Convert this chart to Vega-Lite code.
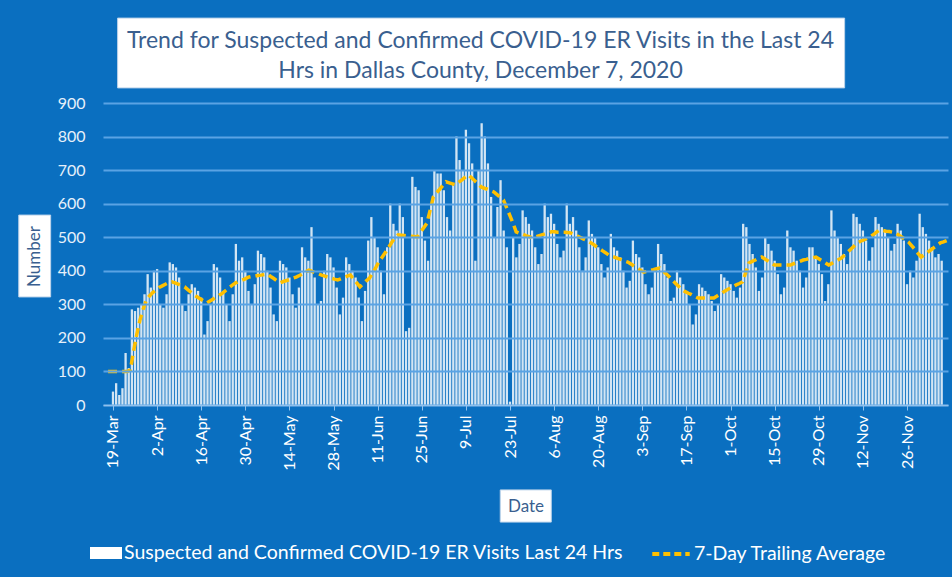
{
"$schema": "https://vega.github.io/schema/vega-lite/v6.json",
"width": 845, "height": 302,
"autosize": {"type": "none"},
"padding": {"left": 103, "top": 103, "right": 4, "bottom": 172},
"background": "#0a6fc0",
"config": {"view": {"stroke": null}, "font": "Lato"},
"title": {"text": ["Trend for Suspected and Confirmed COVID-19 ER Visits in the Last 24", "Hrs in Dallas County, December 7, 2020"], "color": "#3a5f8f", "fontSize": 23, "fontWeight": "normal", "font": "Lato", "lineHeight": 30, "anchor": "middle", "frame": "group", "dx": -45, "offset": 0, "dy": 65},
"resolve": {"scale": {"x": "independent", "y": "independent"}},
"data": {"values": [
{"date":"2020-03-19","visits":40,"avg":100},{"date":"2020-03-20","visits":65,"avg":100},{"date":"2020-03-21","visits":30,"avg":100},{"date":"2020-03-22","visits":50,"avg":100},{"date":"2020-03-23","visits":155,"avg":100},{"date":"2020-03-24","visits":110,"avg":100},{"date":"2020-03-25","visits":285,"avg":100},{"date":"2020-03-26","visits":280,"avg":105},{"date":"2020-03-27","visits":290,"avg":160},{"date":"2020-03-28","visits":300,"avg":210},{"date":"2020-03-29","visits":330,"avg":253},{"date":"2020-03-30","visits":390,"avg":285},{"date":"2020-03-31","visits":350,"avg":313},
{"date":"2020-04-01","visits":400,"avg":325},{"date":"2020-04-02","visits":405,"avg":335},{"date":"2020-04-03","visits":300,"avg":343},{"date":"2020-04-04","visits":290,"avg":350},{"date":"2020-04-05","visits":330,"avg":355},{"date":"2020-04-06","visits":425,"avg":360},{"date":"2020-04-07","visits":420,"avg":365},{"date":"2020-04-08","visits":410,"avg":367},{"date":"2020-04-09","visits":380,"avg":364},{"date":"2020-04-10","visits":300,"avg":360},{"date":"2020-04-11","visits":280,"avg":356},{"date":"2020-04-12","visits":330,"avg":352},{"date":"2020-04-13","visits":360,"avg":344},{"date":"2020-04-14","visits":350,"avg":336},{"date":"2020-04-15","visits":340,"avg":328},{"date":"2020-04-16","visits":320,"avg":322},{"date":"2020-04-17","visits":210,"avg":316},{"date":"2020-04-18","visits":250,"avg":310},{"date":"2020-04-19","visits":300,"avg":304},{"date":"2020-04-20","visits":420,"avg":310},{"date":"2020-04-21","visits":410,"avg":316},{"date":"2020-04-22","visits":380,"avg":322},{"date":"2020-04-23","visits":340,"avg":328},{"date":"2020-04-24","visits":300,"avg":334},{"date":"2020-04-25","visits":250,"avg":342},{"date":"2020-04-26","visits":330,"avg":350},{"date":"2020-04-27","visits":480,"avg":357},{"date":"2020-04-28","visits":430,"avg":364},{"date":"2020-04-29","visits":440,"avg":368},{"date":"2020-04-30","visits":400,"avg":372},
{"date":"2020-05-01","visits":340,"avg":376},{"date":"2020-05-02","visits":300,"avg":381},{"date":"2020-05-03","visits":360,"avg":383},{"date":"2020-05-04","visits":460,"avg":384},{"date":"2020-05-05","visits":450,"avg":386},{"date":"2020-05-06","visits":440,"avg":387},{"date":"2020-05-07","visits":400,"avg":389},{"date":"2020-05-08","visits":350,"avg":390},{"date":"2020-05-09","visits":270,"avg":383},{"date":"2020-05-10","visits":250,"avg":377},{"date":"2020-05-11","visits":430,"avg":370},{"date":"2020-05-12","visits":420,"avg":364},{"date":"2020-05-13","visits":410,"avg":368},{"date":"2020-05-14","visits":380,"avg":371},{"date":"2020-05-15","visits":330,"avg":374},{"date":"2020-05-16","visits":290,"avg":378},{"date":"2020-05-17","visits":350,"avg":381},{"date":"2020-05-18","visits":470,"avg":386},{"date":"2020-05-19","visits":440,"avg":391},{"date":"2020-05-20","visits":430,"avg":397},{"date":"2020-05-21","visits":530,"avg":402},{"date":"2020-05-22","visits":380,"avg":398},{"date":"2020-05-23","visits":300,"avg":394},{"date":"2020-05-24","visits":310,"avg":391},{"date":"2020-05-25","visits":400,"avg":387},{"date":"2020-05-26","visits":450,"avg":384},{"date":"2020-05-27","visits":440,"avg":381},{"date":"2020-05-28","visits":410,"avg":378},{"date":"2020-05-29","visits":350,"avg":375},{"date":"2020-05-30","visits":270,"avg":373},{"date":"2020-05-31","visits":320,"avg":376},
{"date":"2020-06-01","visits":440,"avg":380},{"date":"2020-06-02","visits":420,"avg":384},{"date":"2020-06-03","visits":400,"avg":387},{"date":"2020-06-04","visits":380,"avg":375},{"date":"2020-06-05","visits":320,"avg":364},{"date":"2020-06-06","visits":250,"avg":352},{"date":"2020-06-07","visits":340,"avg":361},{"date":"2020-06-08","visits":490,"avg":370},{"date":"2020-06-09","visits":560,"avg":378},{"date":"2020-06-10","visits":500,"avg":394},{"date":"2020-06-11","visits":470,"avg":410},{"date":"2020-06-12","visits":400,"avg":428},{"date":"2020-06-13","visits":330,"avg":441},{"date":"2020-06-14","visits":470,"avg":455},{"date":"2020-06-15","visits":600,"avg":470},{"date":"2020-06-16","visits":540,"avg":485},{"date":"2020-06-17","visits":520,"avg":498},{"date":"2020-06-18","visits":600,"avg":507},{"date":"2020-06-19","visits":560,"avg":506},{"date":"2020-06-20","visits":220,"avg":505},{"date":"2020-06-21","visits":230,"avg":504},{"date":"2020-06-22","visits":680,"avg":503},{"date":"2020-06-23","visits":650,"avg":502},{"date":"2020-06-24","visits":640,"avg":501},{"date":"2020-06-25","visits":560,"avg":515},{"date":"2020-06-26","visits":490,"avg":528},{"date":"2020-06-27","visits":430,"avg":542},{"date":"2020-06-28","visits":600,"avg":580},{"date":"2020-06-29","visits":700,"avg":620},{"date":"2020-06-30","visits":690,"avg":632},
{"date":"2020-07-01","visits":690,"avg":643},{"date":"2020-07-02","visits":640,"avg":654},{"date":"2020-07-03","visits":560,"avg":665},{"date":"2020-07-04","visits":520,"avg":662},{"date":"2020-07-05","visits":660,"avg":659},{"date":"2020-07-06","visits":800,"avg":656},{"date":"2020-07-07","visits":730,"avg":664},{"date":"2020-07-08","visits":700,"avg":671},{"date":"2020-07-09","visits":820,"avg":679},{"date":"2020-07-10","visits":780,"avg":686},{"date":"2020-07-11","visits":720,"avg":677},{"date":"2020-07-12","visits":430,"avg":668},{"date":"2020-07-13","visits":700,"avg":659},{"date":"2020-07-14","visits":840,"avg":650},{"date":"2020-07-15","visits":800,"avg":646},{"date":"2020-07-16","visits":720,"avg":643},{"date":"2020-07-17","visits":620,"avg":639},{"date":"2020-07-18","visits":500,"avg":635},{"date":"2020-07-19","visits":590,"avg":627},{"date":"2020-07-20","visits":670,"avg":619},{"date":"2020-07-21","visits":520,"avg":611},{"date":"2020-07-22","visits":470,"avg":588},{"date":"2020-07-23","visits":10,"avg":565},{"date":"2020-07-24","visits":500,"avg":542},{"date":"2020-07-25","visits":440,"avg":516},{"date":"2020-07-26","visits":480,"avg":512},{"date":"2020-07-27","visits":580,"avg":509},{"date":"2020-07-28","visits":560,"avg":505},{"date":"2020-07-29","visits":540,"avg":502},{"date":"2020-07-30","visits":520,"avg":498},{"date":"2020-07-31","visits":470,"avg":501},
{"date":"2020-08-01","visits":420,"avg":504},{"date":"2020-08-02","visits":450,"avg":507},{"date":"2020-08-03","visits":600,"avg":510},{"date":"2020-08-04","visits":560,"avg":513},{"date":"2020-08-05","visits":570,"avg":516},{"date":"2020-08-06","visits":540,"avg":516},{"date":"2020-08-07","visits":480,"avg":515},{"date":"2020-08-08","visits":440,"avg":515},{"date":"2020-08-09","visits":460,"avg":515},{"date":"2020-08-10","visits":600,"avg":514},{"date":"2020-08-11","visits":540,"avg":513},{"date":"2020-08-12","visits":560,"avg":509},{"date":"2020-08-13","visits":520,"avg":504},{"date":"2020-08-14","visits":470,"avg":500},{"date":"2020-08-15","visits":400,"avg":495},{"date":"2020-08-16","visits":440,"avg":491},{"date":"2020-08-17","visits":550,"avg":486},{"date":"2020-08-18","visits":510,"avg":480},{"date":"2020-08-19","visits":500,"avg":473},{"date":"2020-08-20","visits":470,"avg":467},{"date":"2020-08-21","visits":420,"avg":460},{"date":"2020-08-22","visits":380,"avg":454},{"date":"2020-08-23","visits":410,"avg":447},{"date":"2020-08-24","visits":510,"avg":443},{"date":"2020-08-25","visits":470,"avg":440},{"date":"2020-08-26","visits":460,"avg":436},{"date":"2020-08-27","visits":440,"avg":433},{"date":"2020-08-28","visits":400,"avg":429},{"date":"2020-08-29","visits":350,"avg":426},{"date":"2020-08-30","visits":370,"avg":420},{"date":"2020-08-31","visits":490,"avg":414},
{"date":"2020-09-01","visits":450,"avg":408},{"date":"2020-09-02","visits":440,"avg":402},{"date":"2020-09-03","visits":410,"avg":396},{"date":"2020-09-04","visits":360,"avg":398},{"date":"2020-09-05","visits":330,"avg":401},{"date":"2020-09-06","visits":350,"avg":403},{"date":"2020-09-07","visits":400,"avg":406},{"date":"2020-09-08","visits":480,"avg":408},{"date":"2020-09-09","visits":450,"avg":400},{"date":"2020-09-10","visits":420,"avg":391},{"date":"2020-09-11","visits":380,"avg":382},{"date":"2020-09-12","visits":310,"avg":372},{"date":"2020-09-13","visits":320,"avg":362},{"date":"2020-09-14","visits":400,"avg":353},{"date":"2020-09-15","visits":380,"avg":343},{"date":"2020-09-16","visits":360,"avg":338},{"date":"2020-09-17","visits":340,"avg":333},{"date":"2020-09-18","visits":300,"avg":329},{"date":"2020-09-19","visits":240,"avg":324},{"date":"2020-09-20","visits":270,"avg":319},{"date":"2020-09-21","visits":360,"avg":319},{"date":"2020-09-22","visits":350,"avg":319},{"date":"2020-09-23","visits":340,"avg":319},{"date":"2020-09-24","visits":330,"avg":319},{"date":"2020-09-25","visits":310,"avg":319},{"date":"2020-09-26","visits":280,"avg":325},{"date":"2020-09-27","visits":300,"avg":331},{"date":"2020-09-28","visits":390,"avg":337},{"date":"2020-09-29","visits":380,"avg":343},{"date":"2020-09-30","visits":370,"avg":348},
{"date":"2020-10-01","visits":360,"avg":353},{"date":"2020-10-02","visits":340,"avg":358},{"date":"2020-10-03","visits":320,"avg":362},{"date":"2020-10-04","visits":350,"avg":367},{"date":"2020-10-05","visits":540,"avg":395},{"date":"2020-10-06","visits":530,"avg":423},{"date":"2020-10-07","visits":480,"avg":428},{"date":"2020-10-08","visits":450,"avg":432},{"date":"2020-10-09","visits":410,"avg":437},{"date":"2020-10-10","visits":340,"avg":441},{"date":"2020-10-11","visits":380,"avg":435},{"date":"2020-10-12","visits":500,"avg":429},{"date":"2020-10-13","visits":480,"avg":423},{"date":"2020-10-14","visits":460,"avg":417},{"date":"2020-10-15","visits":430,"avg":417},{"date":"2020-10-16","visits":390,"avg":417},{"date":"2020-10-17","visits":330,"avg":417},{"date":"2020-10-18","visits":350,"avg":417},{"date":"2020-10-19","visits":520,"avg":417},{"date":"2020-10-20","visits":470,"avg":421},{"date":"2020-10-21","visits":460,"avg":424},{"date":"2020-10-22","visits":430,"avg":428},{"date":"2020-10-23","visits":400,"avg":432},{"date":"2020-10-24","visits":350,"avg":434},{"date":"2020-10-25","visits":380,"avg":437},{"date":"2020-10-26","visits":470,"avg":439},{"date":"2020-10-27","visits":470,"avg":441},{"date":"2020-10-28","visits":440,"avg":435},{"date":"2020-10-29","visits":420,"avg":429},{"date":"2020-10-30","visits":390,"avg":423},{"date":"2020-10-31","visits":310,"avg":417},
{"date":"2020-11-01","visits":360,"avg":422},{"date":"2020-11-02","visits":580,"avg":428},{"date":"2020-11-03","visits":520,"avg":433},{"date":"2020-11-04","visits":500,"avg":438},{"date":"2020-11-05","visits":480,"avg":447},{"date":"2020-11-06","visits":450,"avg":456},{"date":"2020-11-07","visits":420,"avg":465},{"date":"2020-11-08","visits":460,"avg":474},{"date":"2020-11-09","visits":570,"avg":483},{"date":"2020-11-10","visits":560,"avg":488},{"date":"2020-11-11","visits":540,"avg":492},{"date":"2020-11-12","visits":520,"avg":497},{"date":"2020-11-13","visits":490,"avg":501},{"date":"2020-11-14","visits":430,"avg":508},{"date":"2020-11-15","visits":470,"avg":515},{"date":"2020-11-16","visits":560,"avg":522},{"date":"2020-11-17","visits":540,"avg":520},{"date":"2020-11-18","visits":530,"avg":518},{"date":"2020-11-19","visits":520,"avg":517},{"date":"2020-11-20","visits":500,"avg":515},{"date":"2020-11-21","visits":460,"avg":513},{"date":"2020-11-22","visits":480,"avg":506},{"date":"2020-11-23","visits":540,"avg":500},{"date":"2020-11-24","visits":520,"avg":493},{"date":"2020-11-25","visits":490,"avg":486},{"date":"2020-11-26","visits":360,"avg":475},{"date":"2020-11-27","visits":400,"avg":464},{"date":"2020-11-28","visits":380,"avg":452},{"date":"2020-11-29","visits":430,"avg":441},{"date":"2020-11-30","visits":570,"avg":448},
{"date":"2020-12-01","visits":530,"avg":455},{"date":"2020-12-02","visits":510,"avg":462},{"date":"2020-12-03","visits":490,"avg":469},{"date":"2020-12-04","visits":470,"avg":476},{"date":"2020-12-05","visits":440,"avg":483},{"date":"2020-12-06","visits":450,"avg":486},{"date":"2020-12-07","visits":430,"avg":490}
]},
"layer": [
{"mark": {"type": "bar", "size": 2.3, "opacity": 0.82},
 "encoding": {
  "x": {"field": "date", "type": "temporal",
   "scale": {"type": "utc", "domain": [{"year": 2020, "month": 3, "date": 17, "hours": 10, "utc": true}, {"year": 2020, "month": 12, "date": 7, "hours": 10, "utc": true}]},
   "axis": {"title": "Date", "zindex": 1, "values": [{"year":2020,"month":3,"date":19,"utc":true},{"year":2020,"month":4,"date":2,"utc":true},{"year":2020,"month":4,"date":16,"utc":true},{"year":2020,"month":4,"date":30,"utc":true},{"year":2020,"month":5,"date":14,"utc":true},{"year":2020,"month":5,"date":28,"utc":true},{"year":2020,"month":6,"date":11,"utc":true},{"year":2020,"month":6,"date":25,"utc":true},{"year":2020,"month":7,"date":9,"utc":true},{"year":2020,"month":7,"date":23,"utc":true},{"year":2020,"month":8,"date":6,"utc":true},{"year":2020,"month":8,"date":20,"utc":true},{"year":2020,"month":9,"date":3,"utc":true},{"year":2020,"month":9,"date":17,"utc":true},{"year":2020,"month":10,"date":1,"utc":true},{"year":2020,"month":10,"date":15,"utc":true},{"year":2020,"month":10,"date":29,"utc":true},{"year":2020,"month":11,"date":12,"utc":true},{"year":2020,"month":11,"date":26,"utc":true}],
    "labelExpr": "utcFormat(datum.value, '%-d-%b')", "labelAngle": -90, "labelAlign": "right", "labelBaseline": "middle", "labelColor": "#ffffff", "labelFontSize": 16, "labelFont": "Lato", "labelPadding": 5, "labelOverlap": false,
    "grid": false, "domainColor": "#8fc0ec", "domainWidth": 1.5, "tickColor": "#8fc0ec", "tickSize": 5,
    "titleColor": "#3a5f8f", "titleFont": "Lato", "titleFontSize": 17, "titleFontWeight": "normal", "titleY": 101, "titleBaseline": "middle"}},
  "y": {"field": "visits", "type": "quantitative", "scale": {"domain": [0, 900], "nice": false},
   "axis": {"title": "Number", "zindex": 1, "values": [0,100,200,300,400,500,600,700,800,900], "labelColor": "#e6f0fa", "labelFontSize": 16, "labelFont": "Lato", "labelPadding": 18, "ticks": false, "domain": false, "labelOverlap": false,
    "grid": true, "gridColor": "#5aa3e4", "gridWidth": 2,
    "titleColor": "#3a5f8f", "titleFont": "Lato", "titleFontSize": 17, "titleFontWeight": "normal", "titleX": -69, "titleY": 153, "titleAlign": "center", "titleBaseline": "middle", "titleAngle": -90}},
  "fill": {"datum": "Suspected and Confirmed COVID-19 ER Visits Last 24 Hrs", "type": "nominal", "scale": {"range": ["#ffffff"]},
   "legend": {"orient": "none", "legendX": -13, "legendY": 434, "title": null, "padding": 0, "symbolType": "M-1,-0.375H1V0.375H-1Z", "symbolSize": 1024, "symbolStrokeWidth": 0, "symbolOpacity": 1, "labelColor": "#ffffff", "labelFontSize": 19.5, "labelFont": "Lato", "labelLimit": 700, "labelOffset": 2}}
 }},
{"mark": {"type": "line", "strokeWidth": 3.5, "strokeDash": [9, 5]},
 "encoding": {
  "x": {"field": "date", "type": "temporal", "axis": null, "scale": {"type": "utc", "domain": [{"year": 2020, "month": 3, "date": 17, "hours": 10, "utc": true}, {"year": 2020, "month": 12, "date": 7, "hours": 10, "utc": true}]}},
  "y": {"field": "avg", "type": "quantitative", "axis": null, "scale": {"domain": [0, 900], "nice": false}},
  "stroke": {"datum": "7-Day Trailing Average", "type": "nominal", "scale": {"range": ["#FFC000"]},
   "legend": {"orient": "none", "legendX": 547, "legendY": 430, "title": null, "padding": 0, "symbolType": "stroke", "symbolSize": 1400, "symbolStrokeWidth": 4, "symbolDash": [7, 4], "labelColor": "#ffffff", "labelFontSize": 19.5, "labelFont": "Lato", "labelLimit": 700, "labelOffset": 2}}
 }},
{"data": {"values": [{}]}, "mark": {"type": "rect", "color": "#ffffff", "stroke": "#bcd3ea", "strokeWidth": 1},
 "encoding": {"x": {"datum": {"year": 2020, "month": 3, "date": 22, "utc": true}, "type": "temporal", "axis": null, "scale": {"type": "utc", "domain": [{"year": 2020, "month": 3, "date": 17, "hours": 10, "utc": true}, {"year": 2020, "month": 12, "date": 7, "hours": 10, "utc": true}]}}, "x2": {"datum": {"year": 2020, "month": 11, "date": 5, "utc": true}}, "y": {"datum": 1153, "type": "quantitative", "axis": null, "scale": {"domain": [0, 900], "nice": false}}, "y2": {"datum": 945}}},
{"data": {"values": [{}]}, "mark": {"type": "rect", "color": "#ffffff", "stroke": "#bcd3ea", "strokeWidth": 1},
 "encoding": {"x": {"datum": {"year": 2020, "month": 2, "date": 20, "utc": true}, "type": "temporal", "axis": null, "scale": {"type": "utc", "domain": [{"year": 2020, "month": 3, "date": 17, "hours": 10, "utc": true}, {"year": 2020, "month": 12, "date": 7, "hours": 10, "utc": true}]}}, "x2": {"datum": {"year": 2020, "month": 3, "date": 1, "utc": true}}, "y": {"datum": 566, "type": "quantitative", "axis": null, "scale": {"domain": [0, 900], "nice": false}}, "y2": {"datum": 322}}},
{"data": {"values": [{}]}, "mark": {"type": "rect", "color": "#ffffff", "stroke": "#bcd3ea", "strokeWidth": 1},
 "encoding": {"x": {"datum": {"year": 2020, "month": 7, "date": 20, "utc": true}, "type": "temporal", "axis": null, "scale": {"type": "utc", "domain": [{"year": 2020, "month": 3, "date": 17, "hours": 10, "utc": true}, {"year": 2020, "month": 12, "date": 7, "hours": 10, "utc": true}]}}, "x2": {"datum": {"year": 2020, "month": 8, "date": 5, "utc": true}}, "y": {"datum": -253, "type": "quantitative", "axis": null, "scale": {"domain": [0, 900], "nice": false}}, "y2": {"datum": -349}}}
]
}
